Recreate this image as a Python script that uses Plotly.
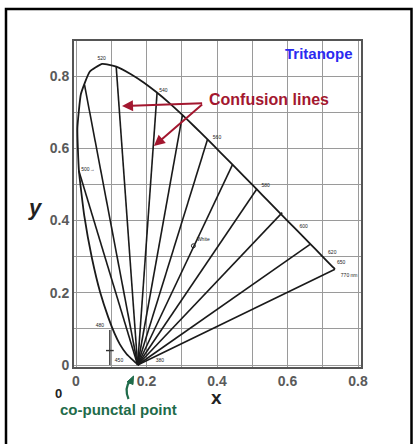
import plotly.graph_objects as go

# CIE 1931 spectral locus (chromaticity x, y) at selected wavelengths (nm)
wavelengths = [380, 400, 420, 430, 440, 450, 460, 470, 475, 480, 485, 490, 495,
               500, 505, 510, 515, 520, 525, 530, 535, 540, 545, 550, 555, 560,
               565, 570, 575, 580, 585, 590, 595, 600, 610, 620, 630, 640, 650,
               660, 680, 700]
locus_x = [0.1741, 0.1733, 0.1714, 0.1689, 0.1644, 0.1566, 0.1440, 0.1241, 0.1096,
           0.0913, 0.0687, 0.0454, 0.0235, 0.0082, 0.0039, 0.0139, 0.0389, 0.0743,
           0.1142, 0.1547, 0.1929, 0.2296, 0.2658, 0.3016, 0.3373, 0.3731, 0.4087,
           0.4441, 0.4788, 0.5125, 0.5448, 0.5752, 0.6029, 0.6270, 0.6658, 0.6915,
           0.7079, 0.7190, 0.7260, 0.7300, 0.7334, 0.7347]
locus_y = [0.0050, 0.0048, 0.0051, 0.0069, 0.0109, 0.0177, 0.0297, 0.0578, 0.0868,
           0.1327, 0.2007, 0.2950, 0.4127, 0.5384, 0.6548, 0.7502, 0.8120, 0.8338,
           0.8262, 0.8059, 0.7816, 0.7543, 0.7243, 0.6923, 0.6589, 0.6245, 0.5896,
           0.5547, 0.5202, 0.4866, 0.4544, 0.4242, 0.3965, 0.3725, 0.3340, 0.3083,
           0.2920, 0.2809, 0.2740, 0.2700, 0.2666, 0.2653]

# Tritanope co-punctal point and the far ends of the confusion lines
copunctal_x = 0.1748
copunctal_y = 0.0
confusion_end_x = [0.008, 0.024, 0.114, 0.230, 0.302, 0.373, 0.444, 0.5125, 0.585, 0.664, 0.7347]
confusion_end_y = [0.538, 0.776, 0.826, 0.754, 0.692, 0.6245, 0.5547, 0.4866, 0.422, 0.334, 0.2653]

# Wavelength labels written along the locus
wl_label_text = ["520", "540", "560", "580", "600", "620", "650", "770 nm", "500→", "480", "450", "380"]
wl_label_x = [0.073, 0.248, 0.400, 0.538, 0.646, 0.727, 0.752, 0.775, 0.034, 0.068, 0.122, 0.238]
wl_label_y = [0.848, 0.760, 0.630, 0.495, 0.382, 0.312, 0.282, 0.246, 0.541, 0.108, 0.012, 0.012]

# White point
white_x = [0.333]
white_y = [0.330]

# Small reference scale near 480 nm
scale_x = [0.096, 0.096, None, 0.085, 0.107]
scale_y = [0.0, 0.097, None, 0.04, 0.04]

line_x, line_y = [], []
for ex, ey in zip(confusion_end_x, confusion_end_y):
    line_x += [copunctal_x, ex, None]
    line_y += [copunctal_y, ey, None]

FONT = "Arial, Liberation Sans, Helvetica, sans-serif"

fig = go.Figure()
fig.add_trace(go.Scatter(x=line_x, y=line_y, mode="lines",
                         line=dict(color="#1a1a1a", width=1.6), hoverinfo="skip"))
fig.add_trace(go.Scatter(x=locus_x, y=locus_y, mode="lines",
                         line=dict(color="#1a1a1a", width=1.8, shape="spline", smoothing=0.4),
                         hoverinfo="skip"))
fig.add_trace(go.Scatter(x=scale_x, y=scale_y, mode="lines",
                         line=dict(color="#333", width=1.4), hoverinfo="skip"))
fig.add_trace(go.Scatter(x=wl_label_x, y=wl_label_y, mode="text", text=wl_label_text,
                         textfont=dict(family=FONT, size=5, color="#222"),
                         hoverinfo="skip"))
fig.add_trace(go.Scatter(x=white_x, y=white_y, mode="text+markers", text=["White"],
                         textposition="top right",
                         marker=dict(symbol="circle-open", size=4, color="#222"),
                         textfont=dict(family=FONT, size=5, color="#222"),
                         hoverinfo="skip"))

L, R, T, B = 74, 52, 41, 77
W, H = 413, 444
pw, ph = W - L - R, H - T - B


def px(xp):
    return (xp - L) / pw


def py(yp):
    return (H - B - yp) / ph


axis_common = dict(
    showline=True, mirror=True, linecolor="#555", linewidth=2,
    showgrid=True, gridcolor="#9a9a9a", gridwidth=1.2,
    minor=dict(dtick=0.1, showgrid=True, gridcolor="#9a9a9a", gridwidth=1.2),
    dtick=0.2, tick0=0, ticks="", zeroline=False,
    tickfont=dict(family=FONT, size=14, color="#5a5a5a", weight="bold"),
)

fig.update_layout(
    width=W, height=H,
    margin=dict(l=L, r=R, t=T, b=B),
    paper_bgcolor="white", plot_bgcolor="white",
    showlegend=False,
    xaxis=dict(range=[-0.0057, 0.8085], **axis_common),
    yaxis=dict(range=[-0.0055, 0.897], **axis_common),
    shapes=[
        # outer frame
        dict(type="rect", xref="paper", yref="paper",
             x0=px(6), x1=px(411.5), y0=py(455), y1=py(9),
             line=dict(color="black", width=2.5), layer="above"),
        # clear area behind the title
        dict(type="rect", xref="paper", yref="paper",
             x0=px(272), x1=px(359.5), y0=py(67), y1=py(42),
             fillcolor="white", line=dict(width=0), layer="between"),
        # curved arrow to the co-punctal point
        dict(type="path", xref="paper", yref="paper",
             path=f"M {px(128.5)},{py(399)} Q {px(124)},{py(388)} {px(130)},{py(381)}",
             line=dict(color="#1f6b4a", width=2.2)),
        dict(type="path", xref="paper", yref="paper",
             path=f"M {px(127)},{py(382)} L {px(133.5)},{py(376)} L {px(133)},{py(384.5)} Z",
             fillcolor="#1f6b4a", line=dict(color="#1f6b4a", width=1)),
    ],
    annotations=[
        dict(text="<b>Tritanope</b>", xref="paper", yref="paper", x=px(319), y=py(53),
             xanchor="center", yanchor="middle", showarrow=False,
             font=dict(family=FONT, size=15, color="#2a2af0")),
        dict(text="<b>Confusion lines</b>", xref="paper", yref="paper", x=px(207), y=py(100),
             xanchor="left", yanchor="middle", showarrow=False,
             font=dict(family=FONT, size=16, color="#a3172f")),
        dict(x=0.1305, y=0.717, ax=0.362, ay=0.725, xref="x", yref="y", axref="x", ayref="y",
             text="", showarrow=True, arrowhead=2, arrowsize=1.1, arrowwidth=2, arrowcolor="#a3172f"),
        dict(x=0.221, y=0.606, ax=0.362, ay=0.725, xref="x", yref="y", axref="x", ayref="y",
             text="", showarrow=True, arrowhead=2, arrowsize=1.1, arrowwidth=2, arrowcolor="#a3172f"),
        dict(text="<b><i>y</i></b>", xref="paper", yref="paper", x=px(35), y=py(208),
             xanchor="center", yanchor="middle", showarrow=False,
             font=dict(family=FONT, size=22, color="#222")),
        dict(text="<b>x</b>", xref="paper", yref="paper", x=px(216), y=py(397),
             xanchor="center", yanchor="middle", showarrow=False,
             font=dict(family=FONT, size=19, color="#222")),
        dict(text="<b>0</b>", xref="paper", yref="paper", x=px(58), y=py(393),
             xanchor="center", yanchor="middle", showarrow=False,
             font=dict(family=FONT, size=13, color="#222")),
        dict(text="<b>co-punctal point</b>", xref="paper", yref="paper", x=px(58), y=py(410),
             xanchor="left", yanchor="middle", showarrow=False,
             font=dict(family=FONT, size=15, color="#1f6b4a")),
    ],
)

fig.write_html("out.html")
